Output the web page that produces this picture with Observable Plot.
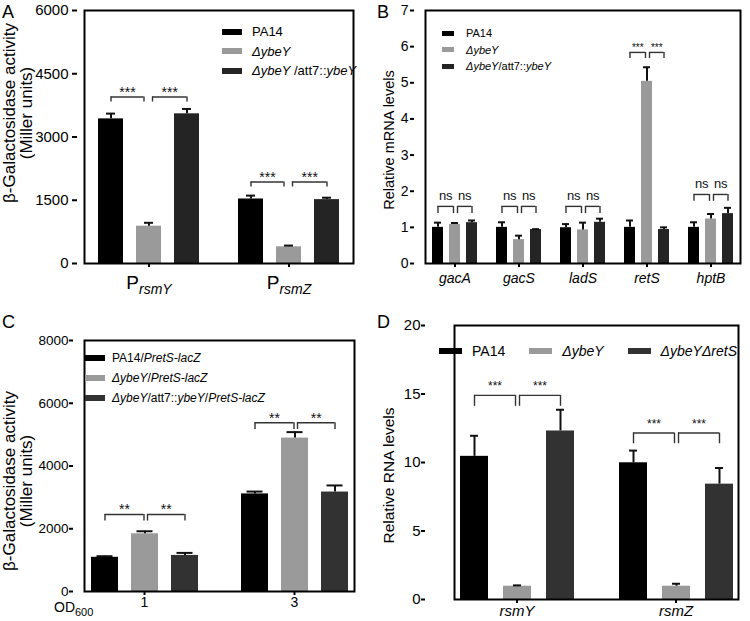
<!DOCTYPE html>
<html><head><meta charset="utf-8">
<script src="https://cdn.jsdelivr.net/npm/d3@7"></script>
<script src="https://cdn.jsdelivr.net/npm/@observablehq/plot@0.6"></script>
<style>
html,body{margin:0;padding:0;background:#fff;}
#fig{position:relative;width:750px;height:621px;overflow:hidden;font-family:'Liberation Sans',Arial,Helvetica,sans-serif;color:#000;}
.panel{position:absolute;}
.panel svg{display:block;overflow:visible;}
.letter{position:absolute;font-size:18px;line-height:1;}
.legend{position:absolute;}
.legend .item{display:flex;align-items:center;white-space:nowrap;}
.legend .sw{flex:none;display:inline-block;}
.od{position:absolute;font-size:14px;line-height:1;}
.od sub{font-size:11px;vertical-align:-4px;}
</style></head><body><div id="fig"></div>
<script>
// ---------------- DATA ----------------
// Panel A
const groupsA = ["rsmY", "rsmZ"];
const seriesA = ["PA14", "ΔybeY", "ΔybeY /att7::ybeY"];
const meanA = [[3430, 885, 3550], [1530, 395, 1515]];
const upperA = [[3555, 965, 3665], [1610, 425, 1560]];
const ticksA = [0, 1500, 3000, 4500, 6000];
const bracketsA = [
  {group: "rsmY", a: 0, b: 1, y: 3947, low: 3829, label: "***"},
  {group: "rsmY", a: 1, b: 2, y: 3947, low: 3829, label: "***"},
  {group: "rsmZ", a: 0, b: 1, y: 1934, low: 1816, label: "***"},
  {group: "rsmZ", a: 1, b: 2, y: 1934, low: 1816, label: "***"}
];
// Panel B
const groupsB = ["gacA", "gacS", "ladS", "retS", "hptB"];
const seriesB = ["PA14", "ΔybeY", "ΔybeY/att7::ybeY"];
const meanB = [[1.0, 1.08, 1.13], [1.0, 0.66, 0.94], [0.99, 0.93, 1.14], [1.0, 5.04, 0.94], [1.0, 1.23, 1.38]];
const upperB = [[1.13, 1.12, 1.19], [1.14, 0.77, 0.95], [1.09, 1.13, 1.24], [1.19, 5.43, 1.0], [1.14, 1.37, 1.54]];
const ticksB = [0, 1, 2, 3, 4, 5, 6, 7];
const bracketsB = [
  {group: "gacA", a: 0, b: 1, y: 1.58, low: 1.38, label: "ns"},
  {group: "gacA", a: 1, b: 2, y: 1.58, low: 1.38, label: "ns"},
  {group: "gacS", a: 0, b: 1, y: 1.58, low: 1.38, label: "ns"},
  {group: "gacS", a: 1, b: 2, y: 1.58, low: 1.38, label: "ns"},
  {group: "ladS", a: 0, b: 1, y: 1.58, low: 1.38, label: "ns"},
  {group: "ladS", a: 1, b: 2, y: 1.58, low: 1.38, label: "ns"},
  {group: "retS", a: 0, b: 1, y: 5.84, low: 5.67, label: "***"},
  {group: "retS", a: 1, b: 2, y: 5.84, low: 5.67, label: "***"},
  {group: "hptB", a: 0, b: 1, y: 1.91, low: 1.72, label: "ns"},
  {group: "hptB", a: 1, b: 2, y: 1.91, low: 1.72, label: "ns"}
];
// Panel C
const groupsC = ["1", "3"];
const seriesC = ["PA14/PretS-lacZ", "ΔybeY/PretS-lacZ", "ΔybeY/att7::ybeY/PretS-lacZ"];
const meanC = [[1090, 1840, 1150], [3110, 4890, 3170]];
const upperC = [[1125, 1920, 1230], [3185, 5080, 3380]];
const ticksC = [0, 2000, 4000, 6000, 8000];
const bracketsC = [
  {group: "1", a: 0, b: 1, y: 2455, low: 2245, label: "**"},
  {group: "1", a: 1, b: 2, y: 2455, low: 2245, label: "**"},
  {group: "3", a: 0, b: 1, y: 5377, low: 5165, label: "**"},
  {group: "3", a: 1, b: 2, y: 5377, low: 5165, label: "**"}
];
// Panel D
const groupsD = ["rsmY", "rsmZ"];
const seriesD = ["PA14", "ΔybeY", "ΔybeYΔretS"];
const meanD = [[10.45, 0.97, 12.3], [9.98, 0.97, 8.42]];
const upperD = [[11.95, 1.03, 13.85], [10.87, 1.15, 9.6]];
const ticksD = [0, 5, 10, 15, 20];
const bracketsD = [
  {group: "rsmY", a: 0, b: 1, y: 14.9, low: 14.1, label: "***"},
  {group: "rsmY", a: 1, b: 2, y: 14.9, low: 14.1, label: "***"},
  {group: "rsmZ", a: 0, b: 1, y: 12.15, low: 11.37, label: "***"},
  {group: "rsmZ", a: 1, b: 2, y: 12.15, low: 11.37, label: "***"}
];

// ---------------- RENDERING ----------------
const FONT = "'Liberation Sans', Arial, Helvetica, sans-serif";
const fig = document.getElementById("fig");

function rich(s) {
  return s.replace(/(Δ?ybeY|ΔretS|PretS-lacZ)/g, "<i>$1</i>");
}

function makePanel(c) {
  const rows = c.groups.flatMap((g, gi) => c.series.map((s, si) => ({group: g, series: s, value: c.mean[gi][si], upper: c.upper[gi][si]})));
  const br = c.brackets.map(d => ({...d, from: c.series[d.a], to: c.series[d.b]}));
  const leftB = br.filter(d => d.a === 0);
  const rightB = br.filter(d => d.a !== 0);
  const [mt, mr, mb, ml] = c.margins;
  const base = {
    width: c.width, height: c.height,
    marginTop: mt, marginRight: mr, marginBottom: mb, marginLeft: ml,
    style: {fontFamily: FONT, fontSize: "13px", background: "transparent", overflow: "visible", color: "#000"},
    x: {domain: c.series, paddingInner: c.xPad[0], paddingOuter: c.xPad[1], axis: null},
    fx: {domain: c.groups, paddingInner: c.fxPad[0], paddingOuter: c.fxPad[1], align: c.fxAlign, axis: null},
    y: {domain: c.yDomain, axis: null},
    color: {domain: c.series, range: c.colors}
  };
  // probe to read the band geometry of the x and fx scales
  const probe = Plot.plot({...base, marks: [Plot.barY(rows, {fx: "group", x: "series", y: "value"})]});
  const xs = probe.scale("x");
  const bw = xs.bandwidth, step = xs.step;
  // the y axis is drawn in the first facet: shift it back onto the frame edge
  const facetShift = probe.scale("fx").apply(c.groups[0]) - ml;
  const bStroke = {stroke: c.bracketColor, strokeWidth: 1.4};
  const labelMarks = [...new Set(br.map(d => d.label))].flatMap(lab => {
    const st = c.labelStyle[lab];
    return [
      Plot.text(leftB.filter(d => d.label === lab), {fx: "group", x: "from", y: "y", text: "label", dx: (step - c.gapL) / 2, dy: st.dy, lineAnchor: "bottom", fontSize: st.size, fill: "#111"}),
      Plot.text(rightB.filter(d => d.label === lab), {fx: "group", x: "from", y: "y", text: "label", dx: (step + c.gapR) / 2, dy: st.dy, lineAnchor: "bottom", fontSize: st.size, fill: "#111"})
    ];
  });
  const chart = Plot.plot({
    ...base,
    marks: [
      Plot.barY(rows, {fx: "group", x: "series", y: "value", fill: "series"}),
      Plot.ruleX(rows, {fx: "group", x: "series", y1: "value", y2: "upper", stroke: "#111", strokeWidth: 2}),
      Plot.tickY(rows, {fx: "group", x: "series", y: "upper", stroke: "#111", strokeWidth: 2, insetLeft: c.capInset, insetRight: c.capInset}),
      Plot.ruleY(leftB, {fx: "group", x1: "from", x2: "to", y: "y", insetLeft: bw / 2, insetRight: bw / 2 + c.gapL, ...bStroke}),
      Plot.ruleY(rightB, {fx: "group", x1: "from", x2: "to", y: "y", insetLeft: bw / 2 + c.gapR, insetRight: bw / 2, ...bStroke}),
      Plot.ruleX(leftB, {fx: "group", x: "from", y1: "low", y2: "y", ...bStroke}),
      Plot.ruleX(leftB, {fx: "group", x: "to", y1: "low", y2: "y", dx: -c.gapL, ...bStroke}),
      Plot.ruleX(rightB, {fx: "group", x: "from", y1: "low", y2: "y", dx: c.gapR, ...bStroke}),
      Plot.ruleX(rightB, {fx: "group", x: "to", y1: "low", y2: "y", ...bStroke}),
      ...labelMarks,
      Plot.frame({facet: "super", stroke: "#000", strokeWidth: 2}),
      Plot.axisY({ticks: c.yTicks, tickFormat: "d", tickSize: c.tickSize, tickPadding: c.tickPad, fontSize: c.tickFont, strokeWidth: 2, label: null, dx: -facetShift}),
      Plot.axisY({ticks: [], label: c.yLabel, labelAnchor: "center", labelArrow: "none", labelOffset: c.labelOffset + facetShift, fontSize: c.labelFont}),
      Plot.axisFx({anchor: "bottom", tickSize: 4, tickPadding: c.fxTickPad, fontSize: c.fxFont, strokeWidth: 2, label: null})
    ]
  });
  const sel = d3.select(chart);
  const labelString = c.yLabel.replace(/\n/g, "");
  // move the y title along the axis to where the reference places it
  sel.selectAll("text").filter(function () { return this.textContent === labelString; })
    .each(function () {
      const tr = this.getAttribute("transform") || "";
      this.setAttribute("transform", `translate(0,${c.labelShift}) ${tr}`);
      this.style.fontSize = c.labelFont + "px";
    });
  // rich tick labels on the group axis
  sel.selectAll("text").filter(function () { return c.groups.includes(this.textContent) && !this.querySelector("tspan"); })
    .each(function () {
      const g = this.textContent;
      const t = d3.select(this);
      if (c.fxRich) {
        t.text(null);
        c.fxRich(g).forEach(p => {
          const ts = t.append("tspan").text(p.text).style("font-size", p.size + "px");
          if (p.italic) ts.attr("font-style", "italic");
          if (p.dy) ts.attr("dy", p.dy);
        });
      } else if (c.fxItalic) {
        t.attr("font-style", "italic");
      }
    });
  const holder = document.createElement("div");
  holder.className = "panel";
  holder.style.left = c.left + "px";
  holder.style.top = c.top + "px";
  holder.appendChild(chart);
  fig.appendChild(holder);
}

function addLegend(series, colors, o) {
  const div = document.createElement("div");
  div.className = "legend";
  div.style.left = o.left + "px";
  div.style.top = o.top + "px";
  div.style.fontSize = o.font + "px";
  if (o.row) { div.style.display = "flex"; div.style.justifyContent = "space-between"; div.style.width = o.width + "px"; }
  series.forEach((s, i) => {
    const it = document.createElement("div");
    it.className = "item";
    it.style.height = o.lineH + "px";
    it.innerHTML = `<span class="sw" style="width:${o.swW}px;height:${o.swH}px;background:${colors[i]};margin-right:${o.gap}px"></span><span>${rich(s)}</span>`;
    div.appendChild(it);
  });
  fig.appendChild(div);
}

function addText(cls, html, left, top) {
  const d = document.createElement("div");
  d.className = cls;
  d.style.left = left + "px";
  d.style.top = top + "px";
  d.innerHTML = html;
  fig.appendChild(d);
}

const colorsAB = ["#000000", "#9a9a9a", "#242424"];
const colorsCD = ["#000000", "#9a9a9a", "#323232"];

makePanel({
  left: 0, top: 0, width: 375, height: 310, margins: [10, 13, 47, 77],
  groups: groupsA, series: seriesA, mean: meanA, upper: upperA, colors: colorsAB,
  yDomain: [0, 6000], yTicks: ticksA, tickFont: 15, tickSize: 5, tickPad: 4,
  yLabel: "β-Galactosidase activity\n(Miller units)", labelFont: 17, labelOffset: 75, labelShift: -24,
  xPad: [0.33, 0.33], fxPad: [0.08, 0.054], fxAlign: 0.45, fxFont: 18, fxTickPad: 9,
  fxRich: g => [{text: "P", size: 19}, {text: g, size: 14, italic: true, dy: 5}],
  capInset: 8, gapL: 5, gapR: 3.5, bracketColor: "#333",
  labelStyle: {"***": {size: 14, dy: 0}}, brackets: bracketsA
});
makePanel({
  left: 375, top: 0, width: 375, height: 310, margins: [10, 5, 47, 39],
  groups: groupsB, series: seriesB, mean: meanB, upper: upperB, colors: colorsAB,
  yDomain: [0, 7], yTicks: ticksB, tickFont: 14, tickSize: 4, tickPad: 2,
  yLabel: "Relative mRNA levels", labelFont: 14.5, labelOffset: 31, labelShift: 3,
  xPad: [0.371, 0.371], fxPad: [0.085, 0.108], fxAlign: 0.68, fxFont: 14, fxTickPad: 6, fxItalic: true,
  capInset: 2, gapL: 1.5, gapR: 2.5, bracketColor: "#333",
  labelStyle: {"ns": {size: 13, dy: -6}, "***": {size: 10, dy: -1}}, brackets: bracketsB
});
makePanel({
  left: 0, top: 310, width: 375, height: 311, margins: [30, 15, 30, 73],
  groups: groupsC, series: seriesC, mean: meanC, upper: upperC, colors: colorsCD,
  yDomain: [0, 8000], yTicks: ticksC, tickFont: 13.5, tickSize: 4, tickPad: 1,
  yLabel: "β-Galactosidase activity\n(Miller units)", labelFont: 17, labelOffset: 71, labelShift: 15,
  xPad: [0.333, 0.15], fxPad: [0.2, 0.053], fxAlign: 0.64, fxFont: 14, fxTickPad: 2,
  capInset: 5.5, gapL: 1, gapR: 2.5, bracketColor: "#333",
  labelStyle: {"**": {size: 14, dy: 0}}, brackets: bracketsC
});
makePanel({
  left: 375, top: 310, width: 375, height: 311, margins: [15, 4, 22, 50],
  groups: groupsD, series: seriesD, mean: meanD, upper: upperD, colors: colorsCD,
  yDomain: [0, 20], yTicks: ticksD, tickFont: 15, tickSize: 4, tickPad: 1,
  yLabel: "Relative RNA levels", labelFont: 15.5, labelOffset: 43, labelShift: 13,
  xPad: [0.35, 0.1], fxPad: [0.214, 0.113], fxAlign: 0.77, fxFont: 15, fxTickPad: 2, fxItalic: true,
  capInset: 10, gapL: 2, gapR: 2, bracketColor: "#333",
  labelStyle: {"***": {size: 12, dy: -5}}, brackets: bracketsD
});

addLegend(seriesA, colorsAB, {left: 222, top: 22, font: 13, lineH: 19.5, swW: 20, swH: 6, gap: 10});
addLegend(seriesB, colorsAB, {left: 442, top: 25, font: 11, lineH: 16.5, swW: 12, swH: 5, gap: 12});
addLegend(seriesC, colorsCD, {left: 85, top: 348, font: 12, lineH: 20, swW: 20, swH: 6, gap: 7});
addLegend(seriesD, colorsCD, {left: 439, top: 341, font: 14, lineH: 20, swW: 23, swH: 6, gap: 10, row: true, width: 298});

addText("letter", "A", 2, 3);
addText("letter", "B", 377, 3);
addText("letter", "C", 2, 313);
addText("letter", "D", 377, 313);
addText("od", "OD<sub>600</sub>", 54, 600);
</script></body></html>
